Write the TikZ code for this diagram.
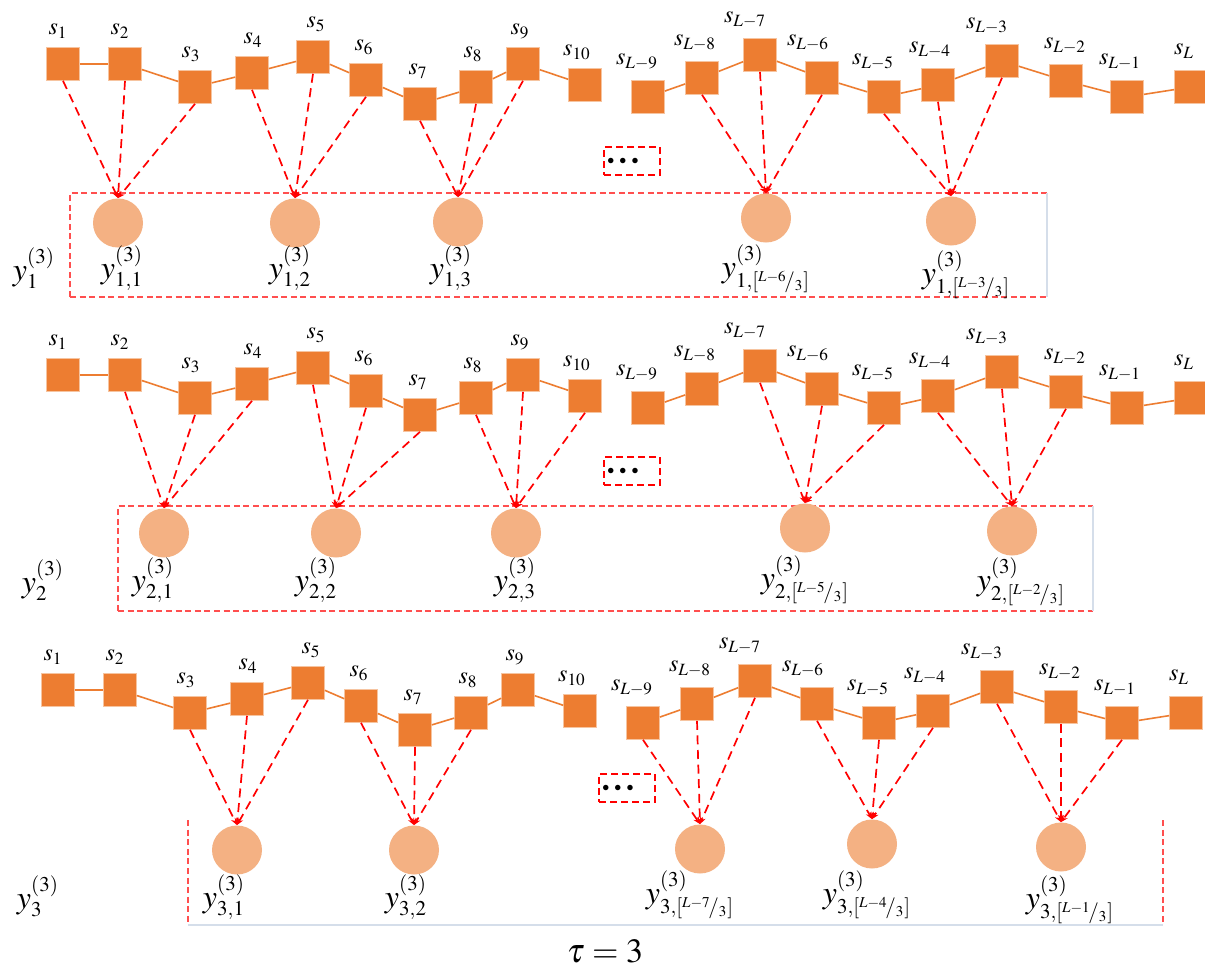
\documentclass[tikz,border=0pt]{standalone}
\usepackage{mathptmx}
\usetikzlibrary{shapes.geometric,arrows.meta}
\DeclareMathSizes{12}{12}{8.6}{6.5}
\DeclareMathSizes{16}{16}{10.5}{7.5}
\DeclareMathSizes{17}{17}{12}{9}
\definecolor{sqorange}{HTML}{ED7D31}
\definecolor{sqedge}{HTML}{F6C4A0}
\definecolor{ellorange}{HTML}{F4B183}
\definecolor{dred}{HTML}{FF0000}
\definecolor{boxred}{HTML}{FF4F4F}
\definecolor{faintline}{HTML}{D5DEEA}
\newcommand{\fr}[2]{[{}^{#1}\!/_{#2}]}
\tikzset{
  sq/.style={rectangle, fill=sqorange, draw=sqedge, line width=0.3pt, minimum size=16.5pt, inner sep=0pt},
  ell/.style={ellipse, fill=ellorange, minimum width=25pt, minimum height=24.5pt, inner sep=0pt},
  slab/.style={font=\fontsize{12}{14}\selectfont, inner sep=0pt, anchor=base},
  ylab/.style={font=\fontsize{16}{19}\selectfont, inner sep=0pt, anchor=base},
  chain/.style={draw=sqorange, line width=0.8pt},
  dedge/.style={draw=dred, line width=0.85pt, dash pattern=on 4.5pt off 2.8pt, -{Stealth[length=3.5pt,width=3pt]}},
  boxline/.style={draw=boxred, line width=0.55pt, dash pattern=on 3pt off 1.8pt},
  boxfaint/.style={draw=faintline, line width=0.6pt},
  dotbox/.style={draw=dred, line width=0.8pt, dash pattern=on 3.5pt off 2pt, minimum width=28pt, minimum height=14pt, inner sep=0pt},
  dotstxt/.style={font=\fontsize{7}{7}\selectfont, inner sep=0pt, anchor=west},
  taulab/.style={font=\fontsize{17}{20}\selectfont, inner sep=0pt, anchor=base}
}
% #1 prefix, #2 dx, #3 dy
\newcommand{\sqrow}[3]{%
  \foreach \n/\x/\y/\lab/\lx/\ly in {1/63/64/1/-5/13, 2/125/64/2/-5/13, 3/195/87/3/-4/13,
      4/252/73/4/1/13, 5/313/57/5/3/13, 6/366/80/6/-2/13, 7/420/104/7/-2/13,
      8/476/87/8/-3/13, 9/523/64/9/-3/13, 10/585/85/10/-8/13,
      L9/648/97/L-9/-11/16, L8/702/78/L-8/-7/16, L7/760/55/L-7/-15/16,
      L6/822/78/L-6/-14/16, L5/884/97/L-5/-11/16, L4/938/85/L-4/-8/16,
      L3/1002/61/L-3/-15/16, L2/1066/81/L-2/-1/16, L1/1127/97/L-1/-7/16,
      L0/1191/87/L/-7/16}{%
    \node[sq] (#1\n) at (\x+#2,\y+#3) {};
    \node[slab] (lab#1\n) at (\x+#2+\lx,\y+#3-16.5-\ly) {$s_{\lab}$};
  }
  \foreach \a/\b in {1/2,2/3,3/4,4/5,5/6,6/7,7/8,8/9,9/10,
      L9/L8,L8/L7,L7/L6,L6/L5,L5/L4,L4/L3,L3/L2,L2/L1,L1/L0}{%
    \draw[chain] (#1\a) -- (#1\b);
  }
}
\begin{document}
\begin{tikzpicture}[x=0.5pt,y=-0.5pt]
\useasboundingbox (0,0) rectangle (1205,970);
\fill[white] (0,0) rectangle (1205,970);

% ---------- row 1 ----------
\sqrow{A}{0}{0}
\draw[boxline] (70,297) -- (70,193) -- (1047,193);
\draw[boxline] (70,297) -- (1047,297);
\draw[boxfaint] (1047,193) -- (1047,297);
\node[ell] (e11) at (118,223) {};
\node[ell] (e12) at (295,223) {};
\node[ell] (e13) at (458,222) {};
\node[ell] (e1a) at (766,218) {};
\node[ell] (e1b) at (951,221) {};
\foreach \s/\e in {A1/e11,A2/e11,A3/e11,A4/e12,A5/e12,A6/e12,A7/e13,A8/e13,A9/e13,
    AL8/e1a,AL7/e1a,AL6/e1a,AL5/e1b,AL4/e1b,AL3/e1b}
  \draw[dedge] (\s.south) -- (\e.north);
\node[ylab] (yl1) at (34,280) {$y^{(3)}_{1}$};
\node[ylab] (l11) at (122,278) {$y^{(3)}_{1,1}$};
\node[ylab] (l12) at (290,278) {$y^{(3)}_{1,2}$};
\node[ylab] (l13) at (451,278) {$y^{(3)}_{1,3}$};
\node[ylab] (l1a) at (766,277) {$y^{(3)}_{1,\fr{L-6}{3}}$};
\node[ylab] (l1b) at (966,283) {$y^{(3)}_{1,\fr{L-3}{3}}$};
\node[dotbox] (d1) at (632,161) {};
\node[dotstxt] (t1) at (607,161) {$\bullet\;\bullet\;\bullet$};

% ---------- row 2 ----------
\sqrow{B}{0}{311}
\draw[boxline] (118,611) -- (118,506) -- (1093,506);
\draw[boxline] (118,611) -- (1093,611);
\draw[boxfaint] (1093,506) -- (1093,611);
\node[ell] (e21) at (164,533) {};
\node[ell] (e22) at (336,533) {};
\node[ell] (e23) at (516,533) {};
\node[ell] (e2a) at (805,528) {};
\node[ell] (e2b) at (1012,531) {};
\foreach \s/\e in {B2/e21,B3/e21,B4/e21,B5/e22,B6/e22,B7/e22,B8/e23,B9/e23,B10/e23,
    BL7/e2a,BL6/e2a,BL5/e2a,BL4/e2b,BL3/e2b,BL2/e2b}
  \draw[dedge] (\s.south) -- (\e.north);
\node[ylab] (yl2) at (43,592) {$y^{(3)}_{2}$};
\node[ylab] (l21) at (153,590) {$y^{(3)}_{2,1}$};
\node[ylab] (l22) at (316,590) {$y^{(3)}_{2,2}$};
\node[ylab] (l23) at (515,590) {$y^{(3)}_{2,3}$};
\node[ylab] (l2a) at (805,588) {$y^{(3)}_{2,\fr{L-5}{3}}$};
\node[ylab] (l2b) at (1021,590) {$y^{(3)}_{2,\fr{L-2}{3}}$};
\node[dotbox] (d2) at (632,471) {};
\node[dotstxt] (t2) at (607,471) {$\bullet\;\bullet\;\bullet$};

% ---------- row 3 ----------
\sqrow{C}{-5}{626}
\draw[boxline] (188,820) -- (188,925);
\draw[boxfaint] (188,925) -- (1163,925);
\draw[boxline] (1163,820) -- (1163,925);
\node[ell] (e31) at (237,850) {};
\node[ell] (e32) at (414,850) {};
\node[ell] (e3a) at (700,849) {};
\node[ell] (e3b) at (872,844) {};
\node[ell] (e3c) at (1061,847) {};
\foreach \s/\e in {C3/e31,C4/e31,C5/e31,C6/e32,C7/e32,C8/e32,
    CL9/e3a,CL8/e3a,CL7/e3a,CL6/e3b,CL5/e3b,CL4/e3b,CL3/e3c,CL2/e3c,CL1/e3c}
  \draw[dedge] (\s.south) -- (\e.north);
\node[ylab] (yl3) at (38,908) {$y^{(3)}_{3}$};
\node[ylab] (l31) at (224,907) {$y^{(3)}_{3,1}$};
\node[ylab] (l32) at (406,907) {$y^{(3)}_{3,2}$};
\node[ylab] (l3a) at (690,903) {$y^{(3)}_{3,\fr{L-7}{3}}$};
\node[ylab] (l3b) at (867,903) {$y^{(3)}_{3,\fr{L-4}{3}}$};
\node[ylab] (l3c) at (1070,908) {$y^{(3)}_{3,\fr{L-1}{3}}$};
\node[dotbox] (d3) at (627,788) {};
\node[dotstxt] (t3) at (602,788) {$\bullet\;\bullet\;\bullet$};

\node[taulab] (tau) at (605,962) {$\tau = 3$};
\end{tikzpicture}
\end{document}
